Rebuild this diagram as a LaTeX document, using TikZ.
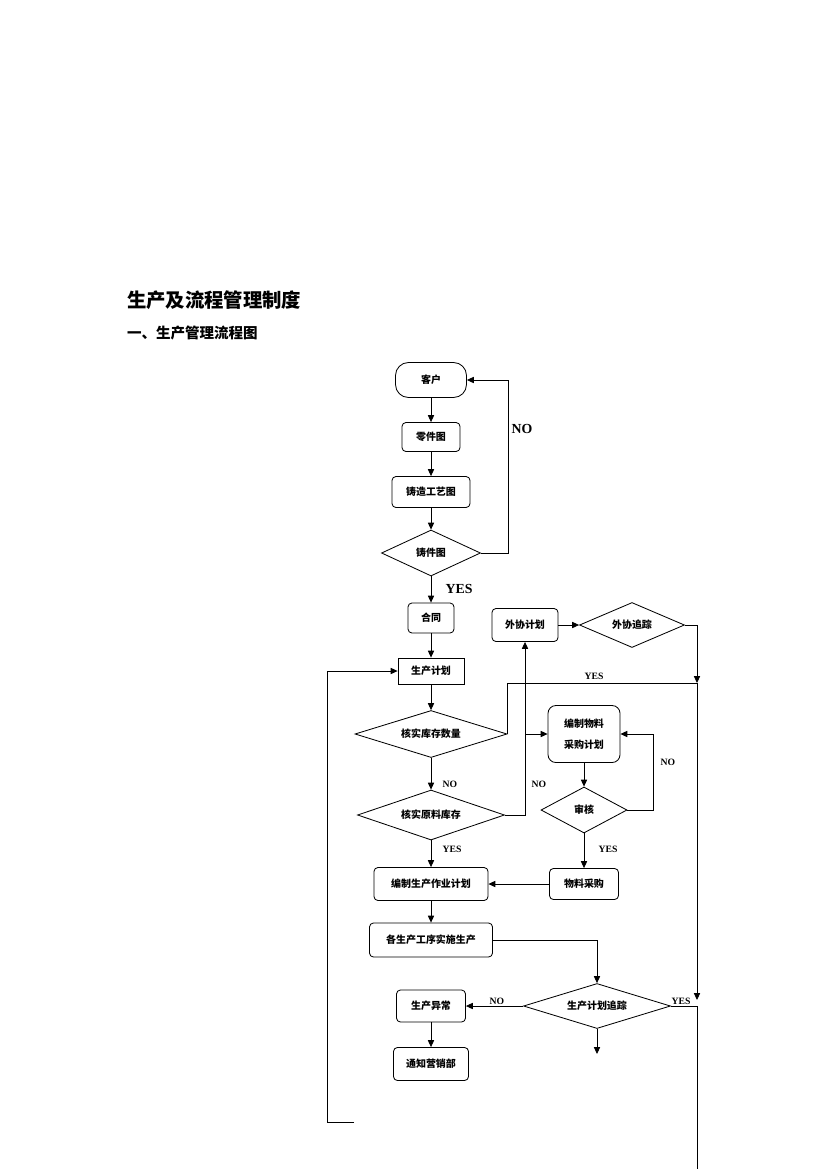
\documentclass[tikz,border=0pt]{standalone}
\usepackage{fontspec}
\setmainfont{Noto Sans CJK SC}
\newfontfamily\latinfont{Liberation Serif}
\usetikzlibrary{shapes.geometric,arrows.meta}
\tikzstyle{box} = [
  draw,
  rounded corners=0.1cm,
  inner sep=0pt,
  font=\fontsize{7.2}{15}\selectfont\bfseries,
]
\tikzstyle{decision} = [
  draw,
  diamond,
  shape aspect=3,
  inner sep=0pt,
  font=\fontsize{7.2}{9}\selectfont\bfseries,
]
\tikzstyle{arrow} = [-{Triangle[length=5pt,width=4.5pt]}]
\tikzstyle{tag} = [font=\latinfont\fontsize{7}{8}\selectfont\bfseries]
\tikzstyle{bigtag} = [font=\latinfont\fontsize{10}{12}\selectfont\bfseries]

\begin{document}
\begin{tikzpicture}[
      x=0.0254cm,
      y=-0.0254cm,
      line width=0.6pt,
    ]
      \def\pxu{0.0254cm}
      \useasboundingbox (0,0) rectangle (826,1169);

      % Titles
      \node[anchor=west, font=\fontsize{14}{16}\selectfont\bfseries] (title) at (122,300) {生产及流程管理制度};
      \node[anchor=west, font=\fontsize{10.5}{12}\selectfont\bfseries] (subtitle) at (122,333) {一、生产管理流程图};

      % Main column
      \node[box, rounded corners=0.33cm, minimum width=71*\pxu, minimum height=35*\pxu] (client) at (431,380) {客户};
      \node[box, minimum width=58*\pxu, minimum height=29*\pxu] (partdwg) at (431,437) {零件图};
      \node[box, minimum width=78*\pxu, minimum height=31*\pxu] (processdwg) at (431,492) {铸造工艺图};
      \node[decision, minimum width=99*\pxu, minimum height=46*\pxu] (castdwg) at (431,553) {铸件图};
      \node[box, minimum width=46*\pxu, minimum height=30*\pxu] (contract) at (431,618) {合同};
      \node[box, rounded corners=0pt, minimum width=66*\pxu, minimum height=26*\pxu] (plan) at (431,671) {生产计划};
      \node[decision, minimum width=152*\pxu, minimum height=47*\pxu] (stockchk) at (431,734) {核实库存数量};
      \node[decision, minimum width=147*\pxu, minimum height=50*\pxu] (rawchk) at (431,815) {核实原料库存};
      \node[box, minimum width=114*\pxu, minimum height=33*\pxu] (workplan) at (431,884) {编制生产作业计划};
      \node[box, minimum width=123*\pxu, minimum height=34*\pxu] (produce) at (431,940) {各生产工序实施生产};
      \node[decision, minimum width=147*\pxu, minimum height=45*\pxu] (track) at (597,1006) {生产计划追踪};
      \node[box, minimum width=69*\pxu, minimum height=32*\pxu] (abnormal) at (431,1006) {生产异常};
      \node[box, minimum width=75*\pxu, minimum height=33*\pxu] (notify) at (431,1064) {通知营销部};

      % Right column
      \node[box, minimum width=66*\pxu, minimum height=33*\pxu] (outplan) at (525,625) {外协计划};
      \node[decision, minimum width=105*\pxu, minimum height=45*\pxu] (outtrack) at (632,625) {外协追踪};
      \node[box, rounded corners=0.2cm, align=center, minimum width=72*\pxu, minimum height=57*\pxu] (buyplan) at (584,734) {编制物料\\采购计划};
      \node[decision, minimum width=86*\pxu, minimum height=46*\pxu] (review) at (584,810) {审核};
      \node[box, minimum width=69*\pxu, minimum height=31*\pxu] (purchase) at (584,884) {物料采购};

      \coordinate (yesline) at (697,683);
      \coordinate (yesend) at (697,1000);
      \coordinate (bottom) at (697,1169);
      \coordinate (trackend) at (597,1054);
      \coordinate (loopstart) at (354,1122);

      % Arrows
      \draw[arrow] (client) -- (partdwg);
      \draw[arrow] (partdwg) -- (processdwg);
      \draw[arrow] (processdwg) -- (castdwg);
      \draw[arrow] (castdwg) -- (contract);
      \draw[arrow] (castdwg.east) -- ++(27,0) |- (client.east);
      \draw[arrow] (contract) -- (plan);
      \draw[arrow] (plan) -- (stockchk);
      \draw[arrow] (stockchk) -- (rawchk);
      \draw (stockchk.east) |- (yesline);
      \draw[arrow] (yesline) -- (yesend);
      \draw[arrow] (rawchk) -- (workplan);
      \draw[arrow] (rawchk.east) -| (outplan.south);
      \draw[arrow] (buyplan.west -| outplan.south) -- (buyplan.west);
      \draw[arrow] (outplan) -- (outtrack);
      \draw[arrow] (outtrack.east) -| (yesline);
      \draw[arrow] (buyplan) -- (review);
      \draw[arrow] (review.east) -- ++(26,0) |- (buyplan.east);
      \draw[arrow] (review) -- (purchase);
      \draw[arrow] (purchase) -- (workplan);
      \draw[arrow] (workplan) -- (produce);
      \draw[arrow] (produce.east) -| (track.north);
      \draw[arrow] (track) -- (abnormal);
      \draw[arrow] (abnormal) -- (notify);
      \draw[arrow] (track.south) -- (trackend);
      \draw (track.east) -| (bottom);
      \draw[arrow] (loopstart) -- ++(-27,0) |- (plan.west);

      % Labels
      \node[bigtag] at (522,429) {NO};
      \node[bigtag] at (459,589) {YES};
      \node[tag] at (594,676) {YES};
      \node[tag] at (450,784) {NO};
      \node[tag] at (539,784) {NO};
      \node[tag] at (668,762) {NO};
      \node[tag] at (452,849) {YES};
      \node[tag] at (608,849) {YES};
      \node[tag] at (497,1001) {NO};
      \node[tag] at (681,1001) {YES};
    \end{tikzpicture}
\end{document}
